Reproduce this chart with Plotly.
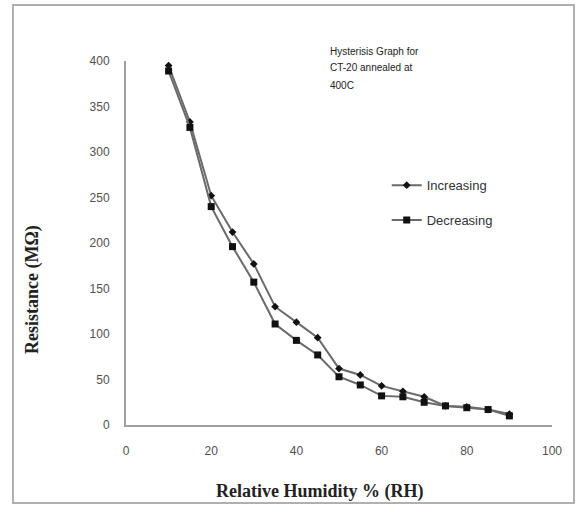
import plotly.graph_objects as go

humidity = [10, 15, 20, 25, 30, 35, 40, 45, 50, 55, 60, 65, 70, 75, 80, 85, 90]
increasing = [395, 333, 252, 212, 177, 130, 113, 96, 62, 55, 43, 37, 31, 21, 20, 17, 12]
decreasing = [389, 327, 240, 196, 157, 111, 93, 77, 53, 44, 32, 31, 25, 21, 19, 17, 10]

x_ticks = [0, 20, 40, 60, 80, 100]
y_ticks = [0, 50, 100, 150, 200, 250, 300, 350, 400]

note_lines = ["Hysterisis Graph for", "CT-20 annealed at", "400C"]

fig = go.Figure()
fig.add_trace(go.Scatter(
    x=humidity, y=increasing, name="Increasing", mode="lines+markers",
    line=dict(color="#6a6a6a", width=2),
    marker=dict(symbol="diamond", size=6, color="#111111"),
    legendgroup="a",
))
fig.add_trace(go.Scatter(
    x=humidity, y=decreasing, name="Decreasing", mode="lines+markers",
    line=dict(color="#6a6a6a", width=2),
    marker=dict(symbol="square", size=7, color="#111111"),
    legendgroup="b",
))

tick_font = dict(family="Liberation Sans, Arial, sans-serif", size=12, color="#505050")

fig.update_layout(
    width=576, height=512,
    margin=dict(l=126, r=24, t=61, b=87),
    paper_bgcolor="white", plot_bgcolor="white",
    showlegend=True,
    legend=dict(
        x=0.612, y=0.70, xanchor="left", yanchor="top",
        font=dict(family="Liberation Sans, Arial, sans-serif", size=13, color="#333333"),
        tracegroupgap=15, itemwidth=30, bgcolor="rgba(0,0,0,0)",
    ),
    xaxis=dict(
        range=[0, 100], tickvals=x_ticks, showgrid=False, zeroline=False,
        showline=True, linecolor="#a0a0a0", linewidth=2, ticks="",
        tickfont=tick_font, ticklabelstandoff=14,
    ),
    yaxis=dict(
        range=[0, 400], tickvals=y_ticks, showgrid=False, zeroline=False,
        showline=True, linecolor="#a0a0a0", linewidth=2, ticks="",
        tickfont=tick_font, ticklabelstandoff=12,
    ),
    shapes=[dict(
        type="rect", xref="paper", yref="paper",
        x0=-0.2653, x1=1.0516, y0=-0.2143, y1=1.1538,
        line=dict(color="#b0b0b0", width=2), fillcolor="rgba(0,0,0,0)",
        layer="below",
    )],
)

annotations = [
    dict(text="<b>Relative Humidity % (RH)</b>", xref="paper", yref="paper",
         x=0.455, y=-0.184, xanchor="center", yanchor="middle", showarrow=False,
         font=dict(family="Liberation Serif, Times New Roman, serif", size=18, color="#222222")),
    dict(text="<b>Resistance (MΩ)</b>", xref="paper", yref="paper",
         x=-0.218, y=0.371, xanchor="center", yanchor="middle", showarrow=False,
         textangle=-90,
         font=dict(family="Liberation Serif, Times New Roman, serif", size=18, color="#222222")),
]
for line, ypos in zip(note_lines, [1.025, 0.981, 0.934]):
    annotations.append(dict(
        text=line, xref="paper", yref="paper", x=0.474, y=ypos,
        xanchor="left", yanchor="middle", showarrow=False,
        font=dict(family="Liberation Sans, Arial, sans-serif", size=10, color="#222222"),
    ))
fig.update_layout(annotations=annotations)

fig.write_html(
    "out.html",
    config={"displayModeBar": False},
    post_script="document.body.style.margin='0';document.body.style.overflow='hidden';",
)
